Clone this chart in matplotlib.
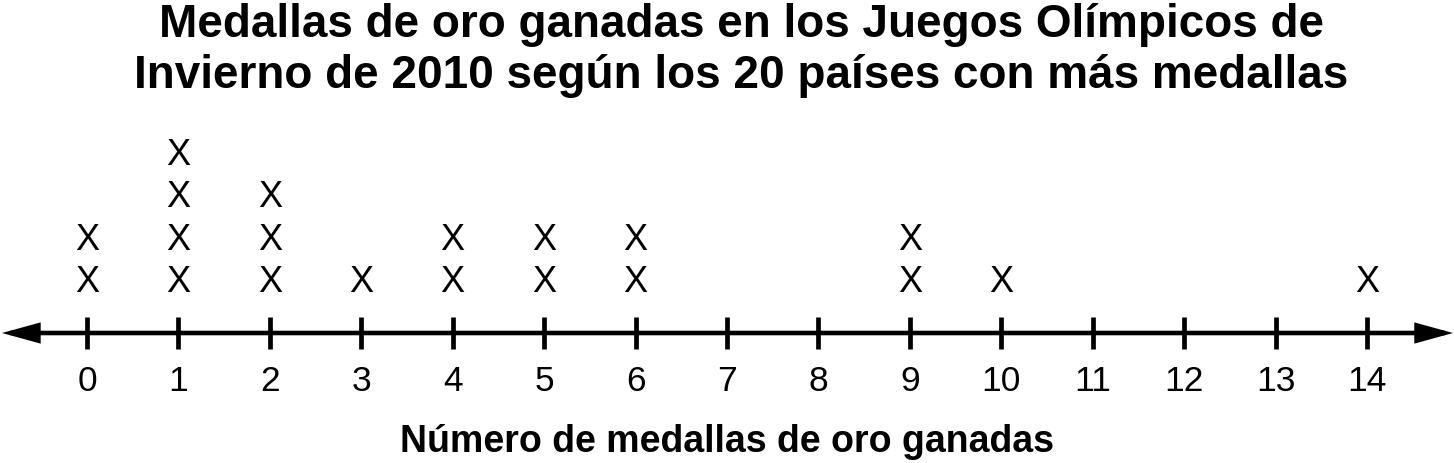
import matplotlib
matplotlib.use("Agg")
import matplotlib.pyplot as plt
from matplotlib.patches import FancyArrowPatch

plt.rcParams['font.family'] = ['Liberation Sans', 'DejaVu Sans']

# Data
values = [0, 1, 2, 3, 4, 5, 6, 7, 8, 9, 10, 11, 12, 13, 14]
counts = [2, 4, 3, 1, 2, 2, 2, 0, 0, 2, 1, 0, 0, 0, 1]
tick_labels = [str(v) for v in values]
title_lines = ["Medallas de oro ganadas en los Juegos Olímpicos de",
               "Invierno de 2010 según los 20 países con más medallas"]
xlabel = "Número de medallas de oro ganadas"

fig = plt.figure(figsize=(14.54, 4.64), dpi=100)
ax = fig.add_axes([0, 0, 1, 1])
ax.set_xlim(-0.9516, 14.951)
ax.set_ylim(-130, 334)
ax.axis('off')

# axis line with arrows
arr = FancyArrowPatch((-0.93, 0), (14.94, 0),
                      arrowstyle='<|-|>,head_length=20,head_width=5.5',
                      mutation_scale=1, color='black', lw=3.3,
                      shrinkA=0, shrinkB=0, joinstyle='miter')
ax.add_patch(arr)

for v, lab, c in zip(values, tick_labels, counts):
    ax.plot([v, v], [-16, 16], color='black', lw=3.4, solid_capstyle='butt')
    ax.text(v, -57, lab, ha='center', va='baseline', fontsize=25.5)
    for k in range(c):
        ax.text(v, 42 + 42.3 * k, 'X', ha='center', va='baseline', fontsize=26)

for i, line in enumerate(title_lines):
    fig.text(741 / 1454, 1 - (37 + 51 * i) / 464, line, ha='center', va='baseline',
             fontsize=33, fontweight='bold')
fig.text(727 / 1454, 1 - 452 / 464, xlabel, ha='center', va='baseline', fontsize=27,
         fontweight='bold')

fig.savefig('out.png', dpi=100)
